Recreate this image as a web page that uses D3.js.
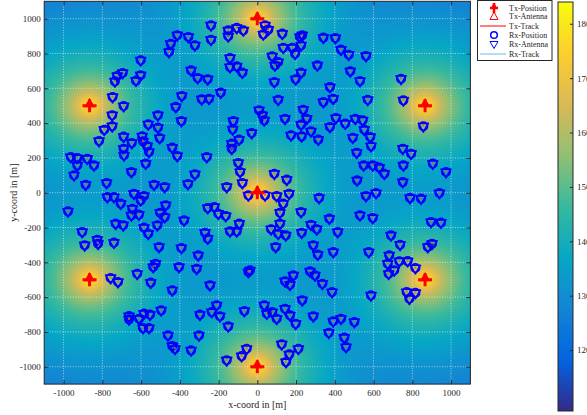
<!DOCTYPE html>
<html><head><meta charset="utf-8">
<script src="https://cdn.jsdelivr.net/npm/d3@7"></script>
<style>
body{margin:0;background:#fff;}
svg{display:block;font-family:"Liberation Serif","Times New Roman",serif;}
</style>
</head><body>
<svg id="chart" width="587" height="415"></svg>
<script>
// ---------------- data ----------------
const txPositions = [[0,0],[0,1000],[866,500],[866,-500],[0,-1000],[-866,-500],[-866,500]];
const rxPositions = [
[-413,905],[-447,856],[-456,809],[-602,761],[-695,688],[-723,671],[-735,640],[-602,675],[-626,644],[-390,556],
[-421,493],[-747,550],[-690,498],[-749,445],[-513,445],[-392,412],[-790,362],[-749,382],[-563,393],[-513,374],
[-817,297],[-690,322],[-648,286],[-594,324],[-590,295],[-504,314],[-690,253],[-688,215],[-568,268],[-559,234],
[-439,259],[-413,211],[-963,205],[-929,199],[-878,195],[-929,157],[-843,157],[-576,167],[-650,119],[-946,100],
[-886,46],[-778,56],[-533,46],[-478,33],[-358,50],
[-356,895],[-322,847],[-239,962],[-239,879],[-150,933],[-150,899],[-106,947],[-72,933],[40,962],[57,937],
[31,910],[129,914],[220,895],[232,905],[226,847],[341,891],[134,833],[181,833],[195,799],[77,784],
[108,751],[91,732],[-141,774],[-141,722],[-106,726],[-77,690],[-342,703],[-308,659],[-256,652],[88,636],
[226,690],[198,652],[310,732],[375,607],[-189,575],[-287,537],[-249,540],[108,534],[341,521],[9,474],
[26,445],[36,416],[143,425],[237,477],[255,425],[226,391],[-124,412],[-127,364],[-29,343],[174,330],
[229,324],[277,353],[315,305],[375,378],[-94,305],[-132,282],[-132,253],[-261,205],[-98,171],[-89,119],
[-77,56],[-158,33],[-322,106],[88,109],[152,75],
[403,889],[432,822],[472,793],[561,786],[480,698],[530,642],[742,655],[392,540],[570,534],[754,531],
[406,429],[454,397],[506,425],[544,416],[552,362],[857,382],[493,316],[583,320],[587,268],[513,230],
[751,253],[794,224],[549,157],[596,157],[630,144],[656,109],[754,157],[906,167],[974,119],[515,71],[751,61],
[561,-19],[613,-2],[788,-30],[845,-34],[940,-2],[372,-149],[530,-130],[596,-145],[897,-168],[948,-172],
[415,-226],[690,-245],[737,-299],[880,-312],[902,-293],[392,-341],[575,-341],[681,-360],[673,-408],[733,-394],
[776,-393],[707,-446],[678,-466],[816,-433],[771,-571],[816,-576],[785,-609],[386,-571],[587,-590],[392,-739],
[432,-724],[501,-743],[369,-805],[449,-833],[458,-887],
[-46,-15],[40,-15],[100,-19],[164,-6],[134,-63],[319,-30],[-256,-88],[-222,-82],[-201,-121],[-163,-134],
[117,-115],[226,-111],[-93,-178],[-106,-222],[-141,-222],[-270,-230],[-256,-264],[117,-178],[71,-210],[108,-236],
[147,-245],[229,-230],[277,-184],[307,-210],[95,-312],[289,-302],[312,-356],[-305,-360],[-313,-437],[-38,-446],
[-46,-456],[272,-452],[298,-475],[336,-523],[186,-475],[143,-509],[169,-529],[-244,-532],[232,-618],[-210,-647],
[-235,-686],[-193,-710],[-296,-701],[-67,-680],[36,-647],[49,-695],[77,-686],[100,-724],[143,-667],[169,-705],
[198,-753],[289,-710],[-150,-768],[-301,-820],[126,-871],[212,-897],[165,-929],[148,-973],[-55,-897],[-81,-939],
[-158,-963],[-342,-906],
[-774,-25],[-740,-25],[-705,-63],[-637,-6],[-585,-19],[-602,-44],[-977,-107],[-645,-92],[-650,-130],[-611,-126],
[-473,-72],[-502,-115],[-478,-140],[-378,-159],[-731,-178],[-692,-187],[-585,-201],[-563,-236],[-516,-187],[-904,-226],
[-891,-302],[-826,-270],[-822,-293],[-740,-287],[-507,-312],[-392,-318],[-757,-490],[-719,-513],[-620,-466],[-550,-517],
[-525,-408],[-537,-427],[-404,-427],[-439,-561],[-662,-709],[-662,-728],[-610,-724],[-585,-695],[-554,-701],[-496,-676],
[-590,-778],[-559,-778],[-461,-820],[-439,-881],[-425,-897]
];
const xTicks = [-1000,-800,-600,-400,-200,0,200,400,600,800,1000];
const yTicks = [-1000,-800,-600,-400,-200,0,200,400,600,800,1000];
const axisDomain = [-1100,1100];
const cbTicks = [120,130,140,150,160,170,180];
const cbDomain = [108.8,184];
const legendLabels = ["Tx-Position","Tx-Antenna","Tx-Track","Rx-Position","Rx-Antenna","Rx-Track"];
// log-distance path-loss model used for the power map (dB), 3-D distance with antenna height
const refPower = 178, refDist = 40, plExponent = 4.3, antennaHeight = 40;
const parulaStops = ["#352a87","#0363e1","#1485d4","#06a7c6","#38b99e","#92bf73","#d9ba56","#fcce2e","#f9fb0e"];

// ---------------- layout ----------------
const svg = d3.select("#chart");
const P = {l:44.2, r:470.4, t:1.3, b:384.1};
const x = d3.scaleLinear().domain(axisDomain).range([P.l,P.r]);
const y = d3.scaleLinear().domain(axisDomain).range([P.b,P.t]);
const color = d3.scaleLinear()
  .domain(parulaStops.map((_,i)=>cbDomain[0]+i/(parulaStops.length-1)*(cbDomain[1]-cbDomain[0])))
  .range(parulaStops).clamp(true);

function power(px,py){
  let s=0;
  for(const [tx,ty] of txPositions){
    const d=Math.hypot(px-tx,py-ty,antennaHeight);
    const p=refPower-10*plExponent*Math.log10(d/refDist);
    s+=Math.pow(10,p/10);
  }
  return 10*Math.log10(s);
}

// heat map
const pw=Math.round(P.r-P.l), ph=Math.round(P.b-P.t);
const cv=document.createElement("canvas"); cv.width=pw; cv.height=ph;
const ctx=cv.getContext("2d"); const img=ctx.createImageData(pw,ph);
for(let j=0;j<ph;j++){
  const yv=y.invert(P.t+(j+0.5)*(P.b-P.t)/ph);
  for(let i=0;i<pw;i++){
    const xv=x.invert(P.l+(i+0.5)*(P.r-P.l)/pw);
    const c=d3.rgb(color(power(xv,yv)));
    const k=(j*pw+i)*4;
    img.data[k]=c.r; img.data[k+1]=c.g; img.data[k+2]=c.b; img.data[k+3]=255;
  }
}
ctx.putImageData(img,0,0);
svg.append("image").attr("href",cv.toDataURL()).attr("x",P.l).attr("y",P.t)
  .attr("width",P.r-P.l).attr("height",P.b-P.t).attr("preserveAspectRatio","none");

// grid
const grid=svg.append("g").attr("stroke","#ffffff").attr("stroke-opacity",0.75)
  .attr("stroke-width",0.8).attr("stroke-dasharray","1,1.6");
grid.selectAll(".gx").data(xTicks).join("line").attr("x1",d=>x(d)).attr("x2",d=>x(d)).attr("y1",P.t).attr("y2",P.b);
grid.selectAll(".gy").data(yTicks).join("line").attr("y1",d=>y(d)).attr("y2",d=>y(d)).attr("x1",P.l).attr("x2",P.r);

// Rx markers
const rxG=svg.append("g");
const rxMark=rxG.selectAll("g").data(rxPositions).join("g")
  .attr("transform",d=>`translate(${x(d[0])},${y(d[1])})`);
rxMark.append("rect").attr("x",-1).attr("y",-1.5).attr("width",2).attr("height",2).attr("fill","#e4583a").attr("opacity",0.8);
rxMark.append("circle").attr("r",4.2).attr("fill","none").attr("stroke","#0000ff").attr("stroke-width",1.7);
rxMark.append("path").attr("d","M-5,-2.8L5,-2.8L0,5.8Z").attr("fill","none").attr("stroke","#0000ff").attr("stroke-width",1.7).attr("stroke-linejoin","round");

// Tx markers
const txMark=svg.append("g").selectAll("g").data(txPositions).join("g")
  .attr("transform",d=>`translate(${x(d[0])},${y(d[1])})`);
txMark.append("path").attr("d","M-7,0L7,0M0,-6.5L0,6.5").attr("stroke","#ff0000").attr("stroke-width",3);
txMark.append("path").attr("d","M0,-6.5L-4.5,1L4.5,1Z").attr("fill","#ff0000").attr("stroke","#ff0000").attr("stroke-width",1.2);

// axes
const tickCol="#262626";
const gx=svg.append("g").attr("transform",`translate(0,${P.b})`)
  .call(d3.axisBottom(x).tickValues(xTicks).tickSize(-4).tickPadding(6).tickFormat(d3.format("d")));
const gxt=svg.append("g").attr("transform",`translate(0,${P.t})`)
  .call(d3.axisTop(x).tickValues(xTicks).tickSize(-4).tickFormat(""));
const gy=svg.append("g").attr("transform",`translate(${P.l},0)`)
  .call(d3.axisLeft(y).tickValues(yTicks).tickSize(-4).tickPadding(3.5).tickFormat(d3.format("d")));
const gyr=svg.append("g").attr("transform",`translate(${P.r},0)`)
  .call(d3.axisRight(y).tickValues(yTicks).tickSize(-4).tickFormat(""));
[gx,gxt,gy,gyr].forEach(g=>{
  g.select(".domain").remove();
  g.selectAll(".tick line").attr("stroke",tickCol);
  g.selectAll("text").attr("fill",tickCol).style("font-family","Liberation Serif, serif").style("font-size","9px");
});
gx.selectAll("text").text(d=>String(d));
gy.selectAll("text").text(d=>String(d));
svg.append("rect").attr("x",P.l).attr("y",P.t).attr("width",P.r-P.l).attr("height",P.b-P.t)
  .attr("fill","none").attr("stroke",tickCol).attr("stroke-width",1);

svg.append("text").attr("x",(P.l+P.r)/2).attr("y",408).attr("text-anchor","middle")
  .attr("fill",tickCol).style("font-size","10px").text("x-coord in [m]");
svg.append("text").attr("transform",`translate(17,${(P.t+P.b)/2}) rotate(-90)`).attr("text-anchor","middle")
  .attr("fill",tickCol).style("font-size","10px").text("y-coord in [m]");

// legend
const L=svg.append("g");
L.append("rect").attr("x",477.5).attr("y",0.5).attr("width",74.5).attr("height",60)
  .attr("fill","#fff").attr("stroke",tickCol).attr("stroke-width",1);
const rowsY=[8,16.5,26,35,44.5,54];
L.selectAll("text").data(legendLabels).join("text").attr("x",509).attr("y",(d,i)=>rowsY[i]).attr("dy","0.33em")
  .attr("fill",tickCol).style("font-size","8px").text(d=>d);
const mx=494;
L.append("path").attr("d",`M${mx-4},${rowsY[0]}L${mx+4},${rowsY[0]}M${mx},${rowsY[0]-5}L${mx},${rowsY[0]+5}`).attr("stroke","#ff0000").attr("stroke-width",2.6);
L.append("path").attr("d",`M${mx},${rowsY[0]-5.5}L${mx-2.5},${rowsY[0]-1}L${mx+2.5},${rowsY[0]-1}Z`).attr("fill","#ff0000");
L.append("path").attr("d",`M${mx},${rowsY[1]-4.5}L${mx-4},${rowsY[1]+3}L${mx+4},${rowsY[1]+3}Z`).attr("fill","none").attr("stroke","#ff0000").attr("stroke-width",1);
L.append("line").attr("x1",480).attr("x2",506).attr("y1",rowsY[2]).attr("y2",rowsY[2]).attr("stroke","#ff0000").attr("stroke-width",1);
L.append("circle").attr("cx",mx).attr("cy",rowsY[3]).attr("r",3.3).attr("fill","none").attr("stroke","#0000ff").attr("stroke-width",1.5);
L.append("path").attr("d",`M${mx-4},${rowsY[4]-3}L${mx+4},${rowsY[4]-3}L${mx},${rowsY[4]+4}Z`).attr("fill","none").attr("stroke","#0000ff").attr("stroke-width",1);
L.append("line").attr("x1",480).attr("x2",506).attr("y1",rowsY[5]).attr("y2",rowsY[5]).attr("stroke","#87cdf0").attr("stroke-width",1.3);

// colorbar
const CB={x:558,w:15,t:2,b:411};
const cby=d3.scaleLinear().domain(cbDomain).range([CB.b,CB.t]);
const grad=svg.append("defs").append("linearGradient").attr("id","cbg").attr("x1",0).attr("y1",1).attr("x2",0).attr("y2",0);
grad.selectAll("stop").data(d3.range(0,1.0001,0.02)).join("stop")
  .attr("offset",d=>d).attr("stop-color",d=>color(cbDomain[0]+d*(cbDomain[1]-cbDomain[0])));
svg.append("rect").attr("x",CB.x).attr("y",CB.t).attr("width",CB.w).attr("height",CB.b-CB.t).attr("fill","url(#cbg)")
  .attr("stroke",tickCol).attr("stroke-width",1);
const gcb=svg.append("g").attr("transform",`translate(${CB.x+CB.w},0)`)
  .call(d3.axisRight(cby).tickValues(cbTicks).tickSize(-3).tickPadding(4).tickFormat(d3.format("d")));
gcb.select(".domain").remove();
gcb.selectAll(".tick line").attr("stroke",tickCol);
gcb.selectAll("text").attr("fill",tickCol).style("font-family","Liberation Serif, serif").style("font-size","9px");
</script>
</body></html>
